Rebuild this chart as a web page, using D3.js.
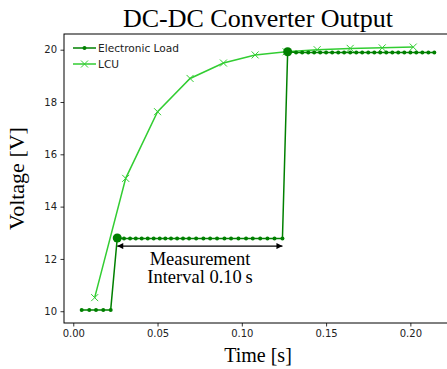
<!DOCTYPE html>
<html>
<head>
<meta charset="utf-8">
<script src="https://cdn.jsdelivr.net/npm/d3@7"></script>
<style>
  body { margin: 0; background: #fff; }
  svg { display: block; }
</style>
</head>
<body>
<div id="chart"></div>
<script>
// Electronic load samples
const loadTime = [0.0050, 0.0095, 0.0135, 0.0178, 0.0222,
  0.0261, 0.0301, 0.0337, 0.0371, 0.0406, 0.0442, 0.0477, 0.0513, 0.0546, 0.0580,
  0.0616, 0.0651, 0.0687, 0.0729, 0.0772, 0.0812, 0.0853, 0.0897, 0.0936, 0.0980,
  0.1025, 0.1065, 0.1109, 0.1152, 0.1194, 0.1241,
  0.1272, 0.1322, 0.1358, 0.1394, 0.1429, 0.1465, 0.1500, 0.1536, 0.1572, 0.1607,
  0.1643, 0.1679, 0.1714, 0.1750, 0.1786, 0.1821, 0.1857, 0.1893, 0.1928, 0.1964,
  0.2000, 0.2035, 0.2071, 0.2107, 0.2142];
const loadVolt = [10.05, 10.05, 10.05, 10.05, 10.05,
  12.80, 12.78, 12.78, 12.78, 12.78, 12.78, 12.78, 12.78, 12.78, 12.78,
  12.78, 12.78, 12.78, 12.78, 12.78, 12.78, 12.78, 12.78, 12.78, 12.78,
  12.78, 12.78, 12.78, 12.78, 12.78, 12.78,
  19.92, 19.89, 19.89, 19.89, 19.89, 19.89, 19.89, 19.89, 19.89, 19.89,
  19.89, 19.89, 19.89, 19.89, 19.89, 19.89, 19.89, 19.89, 19.89, 19.89,
  19.89, 19.89, 19.89, 19.89, 19.89];

// LCU samples
const lcuTime = [0.0127, 0.0311, 0.0500, 0.0693, 0.0891, 0.1079, 0.1263, 0.1447, 0.1643, 0.1833, 0.2017];
const lcuVolt = [10.52, 15.08, 17.63, 18.90, 19.49, 19.80, 19.92, 20.00, 20.05, 20.07, 20.10];

// start / end of the measurement interval
const markTime = [0.0261, 0.1272];
const markVolt = [12.80, 19.92];
const arrowTime = [0.0261, 0.1241];
const arrowVolt = 12.49;

const xTicks = [0.00, 0.05, 0.10, 0.15, 0.20];
const yTicks = [10, 12, 14, 16, 18, 20];
const seriesNames = ["Electronic Load", "LCU"];
const seriesColors = ["#008000", "#32cd32"];

const width = 447, height = 369;
const margin = { top: 34, right: -5, bottom: 46, left: 64 };

const svg = d3.select("#chart").append("svg")
  .attr("width", width)
  .attr("height", height);

const x = d3.scaleLinear()
  .domain([-0.0055, 0.2247])
  .range([margin.left, width - margin.right]);

const y = d3.scaleLinear()
  .domain([9.55, 20.6])
  .range([height - margin.bottom, margin.top]);

const serif = "'Liberation Serif', 'Times New Roman', serif";
const sans = "'DejaVu Sans', sans-serif";

// axes
const xAxis = svg.append("g")
  .attr("transform", `translate(0,${height - margin.bottom})`)
  .call(d3.axisBottom(x).tickValues(xTicks).tickFormat(d3.format(".2f")).tickSizeOuter(0).tickSize(3.5).tickPadding(3.5));
const yAxis = svg.append("g")
  .attr("transform", `translate(${margin.left},0)`)
  .call(d3.axisLeft(y).tickValues(yTicks).tickFormat(d3.format("d")).tickSizeOuter(0).tickSize(3.5).tickPadding(3.5));

[xAxis, yAxis].forEach(g => {
  g.select(".domain").remove();
  g.selectAll("text").style("font-family", sans).style("font-size", "10px").attr("fill", "#222");
  g.selectAll("line").attr("stroke", "#000").attr("stroke-width", 0.8);
});

// spines
svg.append("rect")
  .attr("x", margin.left)
  .attr("y", margin.top)
  .attr("width", width - margin.right - margin.left)
  .attr("height", height - margin.bottom - margin.top)
  .attr("fill", "none")
  .attr("stroke", "#000")
  .attr("stroke-width", 1);

const loadData = loadTime.map((t, i) => ({ t: t, v: loadVolt[i] }));
const lcuData = lcuTime.map((t, i) => ({ t: t, v: lcuVolt[i] }));

const line = d3.line().x(d => x(d.t)).y(d => y(d.v));

// LCU line + x markers
svg.append("path")
  .datum(lcuData)
  .attr("fill", "none")
  .attr("stroke", seriesColors[1])
  .attr("stroke-width", 1.5)
  .attr("d", line);

const xMark = (g, cx, cy, s) => {
  g.append("path")
    .attr("d", `M${cx - s},${cy - s}L${cx + s},${cy + s}M${cx - s},${cy + s}L${cx + s},${cy - s}`)
    .attr("stroke", seriesColors[1])
    .attr("stroke-width", 1)
    .attr("fill", "none");
};
const lcuG = svg.append("g");
lcuData.forEach(d => xMark(lcuG, x(d.t), y(d.v), 3.5));

// electronic load line + dots
svg.append("path")
  .datum(loadData)
  .attr("fill", "none")
  .attr("stroke", seriesColors[0])
  .attr("stroke-width", 1.5)
  .attr("d", line);

svg.append("g").selectAll("circle")
  .data(loadData)
  .join("circle")
  .attr("cx", d => x(d.t))
  .attr("cy", d => y(d.v))
  .attr("r", 2)
  .attr("fill", seriesColors[0]);

svg.append("g").selectAll("circle")
  .data(markTime.map((t, i) => ({ t: t, v: markVolt[i] })))
  .join("circle")
  .attr("cx", d => x(d.t))
  .attr("cy", d => y(d.v))
  .attr("r", 4.5)
  .attr("fill", seriesColors[0]);

// measurement interval arrow
const defs = svg.append("defs");
defs.append("marker")
  .attr("id", "head")
  .attr("viewBox", "0 0 10 10")
  .attr("refX", 10).attr("refY", 5)
  .attr("markerWidth", 8).attr("markerHeight", 6)
  .attr("markerUnits", "userSpaceOnUse")
  .attr("orient", "auto-start-reverse")
  .append("path")
  .attr("d", "M0,0L10,5L0,10Z")
  .attr("fill", "#000");

svg.append("line")
  .attr("x1", x(arrowTime[0]))
  .attr("x2", x(arrowTime[1]))
  .attr("y1", y(arrowVolt))
  .attr("y2", y(arrowVolt))
  .attr("stroke", "#000")
  .attr("stroke-width", 1.2)
  .attr("marker-start", "url(#head)")
  .attr("marker-end", "url(#head)");

const annot = svg.append("text")
  .attr("x", x(0.0752))
  .attr("y", y(11.78))
  .attr("text-anchor", "middle")
  .style("font-family", serif)
  .style("font-size", "18.5px");
annot.append("tspan").text("Measurement");
annot.append("tspan").attr("x", x(0.0752)).attr("dy", 18.5).text("Interval 0.10\u2009s");

// legend
const legend = svg.append("g").attr("transform", `translate(73,48)`);
seriesNames.forEach((name, i) => {
  const g = legend.append("g").attr("transform", `translate(0,${i * 16})`);
  g.append("line")
    .attr("x1", 0).attr("x2", 23).attr("y1", 0).attr("y2", 0)
    .attr("stroke", seriesColors[i]).attr("stroke-width", 1.5);
  if (i === 0) {
    g.append("circle").attr("cx", 11.5).attr("cy", 0).attr("r", 2).attr("fill", seriesColors[0]);
  } else {
    xMark(g, 11.5, 0, 3.5);
  }
  g.append("text")
    .attr("x", 25)
    .attr("y", 4)
    .style("font-family", sans)
    .style("font-size", "10.6px")
    .attr("fill", "#222")
    .text(name);
});

// title and axis labels
svg.append("text")
  .attr("x", (margin.left + width - margin.right) / 2)
  .attr("y", 27)
  .attr("text-anchor", "middle")
  .style("font-family", serif)
  .style("font-size", "26px")
  .text("DC-DC Converter Output");

svg.append("text")
  .attr("x", (margin.left + width - margin.right) / 2)
  .attr("y", 362)
  .attr("text-anchor", "middle")
  .style("font-family", serif)
  .style("font-size", "20px")
  .text("Time [s]");

svg.append("text")
  .attr("transform", `translate(24,${(margin.top + height - margin.bottom) / 2}) rotate(-90)`)
  .attr("text-anchor", "middle")
  .style("font-family", serif)
  .style("font-size", "22px")
  .text("Voltage [V]");
</script>
</body>
</html>
